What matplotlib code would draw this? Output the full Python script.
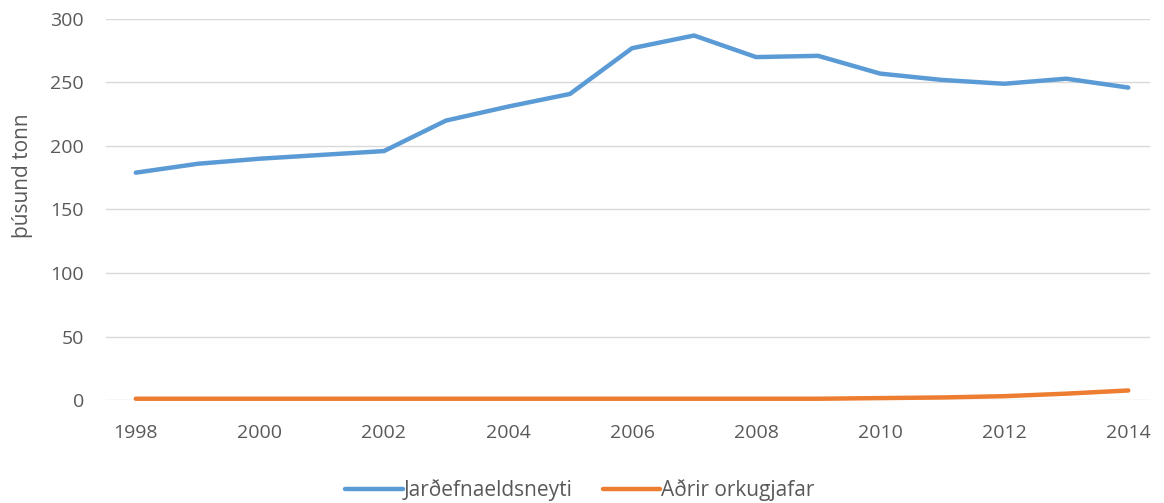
import matplotlib.pyplot as plt

YEARS = list(range(1998, 2015))
FOSSIL = [179, 186, 190, 193, 196, 220, 231, 241, 277, 287, 270, 271, 257, 252, 249, 253, 246]
OTHER = [1, 1, 1, 1, 1, 1, 1, 1, 1, 1, 1, 1, 1.5, 2, 3, 5, 7.5]
X_TICKS = list(range(1998, 2015, 2))
Y_TICKS = [0, 50, 100, 150, 200, 250, 300]

FOSSIL_LABEL = "Jarðefnaeldsneyti"
OTHER_LABEL = "Aðrir orkugjafar"
Y_LABEL = "þúsund tonn"

BLUE = "#5B9BD5"
ORANGE = "#ED7D31"
TEXT_GRAY = "#595959"

plt.rcParams["font.family"] = ["Open Sans", "DejaVu Sans"]

fig = plt.figure(figsize=(11.64, 5.03), dpi=100)
ax = fig.add_axes([106 / 1164, 103 / 503, 1044 / 1164, 381 / 503])

ax.plot(YEARS, FOSSIL, color=BLUE, linewidth=3.2, label=FOSSIL_LABEL,
        solid_capstyle="round", solid_joinstyle="round", clip_on=False)
ax.plot(YEARS, OTHER, color=ORANGE, linewidth=3.2, label=OTHER_LABEL,
        solid_capstyle="round", solid_joinstyle="round", clip_on=False)

ax.set_xlim(1997.52, 2014.35)
ax.set_ylim(0, 300)
ax.set_xticks(X_TICKS)
ax.set_yticks(Y_TICKS)
ax.tick_params(length=0, labelsize=14, colors=TEXT_GRAY)
ax.tick_params(axis="y", pad=16)
ax.tick_params(axis="x", pad=17)
ax.grid(axis="y", color="#D9D9D9", linewidth=1)
ax.set_axisbelow(True)
for spine in ax.spines.values():
    spine.set_visible(False)

ax.set_ylabel(Y_LABEL, fontsize=15, color=TEXT_GRAY)
ax.yaxis.set_label_coords(-0.07, 0.588)

fig.legend(loc="center", bbox_to_anchor=(580 / 1164, 1 - 490 / 503), ncol=2, frameon=False,
           fontsize=15, handlelength=2.75, handletextpad=0.05, columnspacing=1.45,
           labelcolor=TEXT_GRAY)

fig.savefig("out.png", dpi=100, facecolor="white")
